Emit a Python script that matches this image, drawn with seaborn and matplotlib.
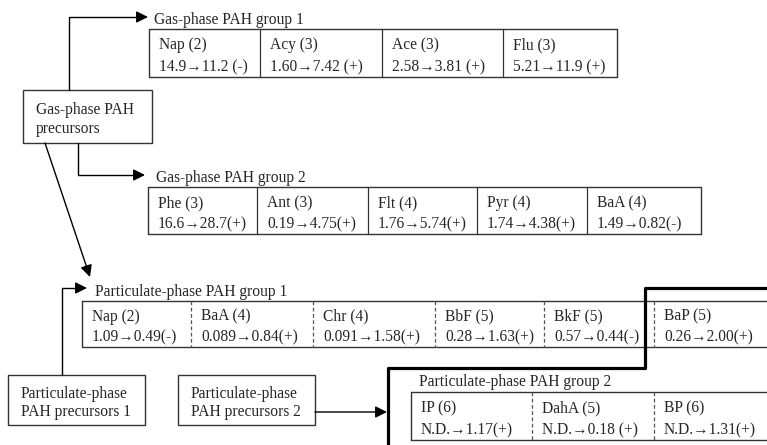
import matplotlib
matplotlib.use("Agg")
import matplotlib.pyplot as plt
import seaborn as sns
from matplotlib.patches import Rectangle, FancyArrowPatch

# PAH groups: compound (ring number) and concentration change
gas1_names = ['Nap (2)', 'Acy (3)', 'Ace (3)', 'Flu (3)']
gas1_values = ['14.9→11.2 (-)', '1.60→7.42 (+)', '2.58→3.81 (+)', '5.21→11.9 (+)']

gas2_names = ['Phe (3)', 'Ant (3)', 'Flt (4)', 'Pyr (4)', 'BaA (4)']
gas2_values = ['16.6→28.7(+)', '0.19→4.75(+)', '1.76→5.74(+)', '1.74→4.38(+)', '1.49→0.82(-)']

part1_names = ['Nap (2)', 'BaA (4)', 'Chr (4)', 'BbF (5)', 'BkF (5)', 'BaP (5)']
part1_values = ['1.09→0.49(-)', '0.089→0.84(+)', '0.091→1.58(+)', '0.28→1.63(+)',
                '0.57→0.44(-)', '0.26→2.00(+)']

part2_names = ['IP (6)', 'DahA (5)', 'BP (6)']
part2_values = ['N.D.→1.17(+)', 'N.D.→0.18 (+)', 'N.D.→1.31(+)']

group_titles = ['Gas-phase PAH group 1', 'Gas-phase PAH group 2',
                'Particulate-phase PAH group 1', 'Particulate-phase PAH group 2']
precursor_labels = ['Gas-phase PAH\nprecursors', 'Particulate-phase\nPAH precursors 1',
                    'Particulate-phase\nPAH precursors 2']

sns.set_theme(style='white')
plt.rcParams['font.family'] = ['Liberation Serif', 'DejaVu Serif']
FS = 11.2
EDGE = '#333333'

fig = plt.figure(figsize=(7.67, 4.45), dpi=100)
ax = fig.add_axes([0, 0, 1, 1])
ax.set_xlim(0, 767)
ax.set_ylim(445, 0)
ax.axis('off')


def line(xs, ys, lw=1.0, color='black'):
    sns.lineplot(x=xs, y=ys, sort=False, estimator=None, ax=ax,
                 color=color, linewidth=lw, legend=False)


def arrow(x0, y0, x1, y1):
    ax.add_patch(FancyArrowPatch((x0, y0), (x1, y1),
                                 arrowstyle='-|>,head_length=7,head_width=3.5',
                                 color='black', lw=1.0, shrinkA=0, shrinkB=0,
                                 mutation_scale=1))


def table(edges, top, bottom, title, title_x, title_y, names, values, dashed=False):
    ax.text(title_x, title_y, title, fontsize=FS, va='center', ha='left')
    line([edges[0], edges[-1]], [top, top], color=EDGE)
    line([edges[0], edges[-1]], [bottom, bottom], color=EDGE)
    line([edges[0], edges[0]], [top, bottom], color=EDGE)
    line([edges[-1], edges[-1]], [top, bottom], color=EDGE)
    for e in edges[1:-1]:
        ax.plot([e, e], [top, bottom], color='#555555' if dashed else EDGE,
                lw=0.9, ls=(0, (3, 2)) if dashed else '-')
    h = bottom - top
    for i, (n, v) in enumerate(zip(names, values)):
        x = edges[i] + 10
        ax.text(x, top + h * 0.34, n, fontsize=FS, va='center', ha='left')
        ax.text(x, top + h * 0.8, v, fontsize=FS, va='center', ha='left')


# tables
table([149, 260, 382, 503, 617], 29, 77, group_titles[0], 154, 20, gas1_names, gas1_values)
table([148, 257, 368, 477, 587, 701], 187, 234, group_titles[1], 156, 178, gas2_names, gas2_values)
table([82, 191, 313, 435, 544, 654, 790], 301, 347, group_titles[2], 95, 292,
      part1_names, part1_values, dashed=True)
table([411, 532, 654, 790], 392, 440, group_titles[3], 419, 382,
      part2_names, part2_values, dashed=True)

# precursor boxes
boxes = [(23, 90, 152, 143), (8, 375, 145, 425), (178, 375, 315, 425)]
for (x0, y0, x1, y1), lab in zip(boxes, precursor_labels):
    ax.add_patch(Rectangle((x0, y0), x1 - x0, y1 - y0, fill=False, ec=EDGE, lw=1.0))
    ax.text(x0 + 13, (y0 + y1) / 2 + 3, lab, fontsize=FS, va='center', ha='left',
            linespacing=1.25)

# connectors
line([69, 69, 140], [90, 17, 17])
arrow(138, 17, 148, 17)
line([78, 78, 136], [143, 175, 175])
arrow(134, 175, 145, 175)
arrow(45, 143, 90, 277)
line([62, 62, 78], [375, 288, 288])
arrow(76, 288, 87, 288)
arrow(315, 412, 387, 412)

# thick separator
line([388, 388, 645, 645, 770], [450, 368, 368, 288, 288], lw=2.3)

fig.savefig('out.png', dpi=100, facecolor='white')
